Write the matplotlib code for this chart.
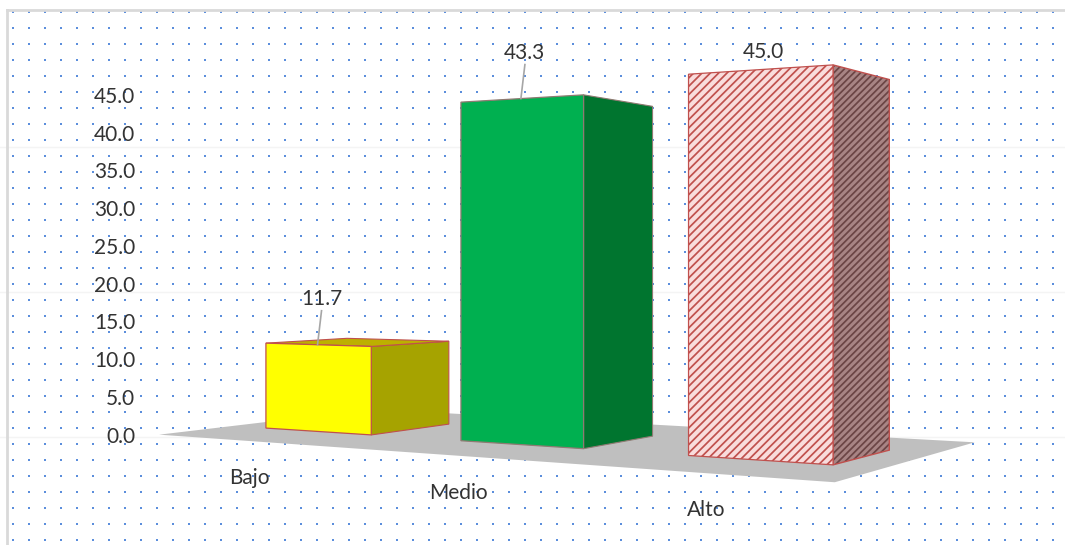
import numpy as np
import matplotlib.pyplot as plt

# datos del gráfico
categorias = ['Bajo', 'Medio', 'Alto']
valores = [11.7, 43.3, 45.0]
ticks_y = np.arange(0, 50, 5)

# estilo de cada barra
colores_frente = ['#FFFF00', '#00B050', '#F9DCDC']
colores_lado = ['#A6A300', '#00752F', '#A88484']
colores_tapa = ['#BDB000', '#009040', '#E8B0B0']
colores_borde = ['#C0504D', '#8F7A72', '#C0504D']
tramas = [None, None, '////']
trama_lado = '#6B4545'

plt.rcParams['font.family'] = ['Lato', 'DejaVu Sans']
plt.rcParams['hatch.linewidth'] = 1.25
COLOR_TEXTO = '#333333'
TAM = 15

# cámara con perspectiva (imita la vista 3D de Excel)
F = 1728.0
CX, CY = 532.0, 264.0
PHI = np.arctan(0.618)
CAM = np.array([156.3, 22.6, -183.2])

SEP = 32.4      # distancia entre categorías
ANCHO = 18.1    # ancho y fondo de cada barra
MARGEN_X = 6.0
MARGEN_Z = 14.5


def proyectar(x, y, z):
    dx, dy, dz = x - CAM[0], y - CAM[1], z - CAM[2]
    xc = dx * np.cos(PHI) + dz * np.sin(PHI)
    zc = -dx * np.sin(PHI) + dz * np.cos(PHI)
    return CX + F * xc / zc, CY - F * dy / zc


fig = plt.figure(figsize=(10.65, 5.45), dpi=100)
ax = fig.add_axes([0, 0, 1, 1])
ax.set_xlim(0, 1065)
ax.set_ylim(545, 0)
ax.axis('off')


def cara(puntos, **kw):
    u, v = zip(*[proyectar(*p) for p in puntos])
    ax.fill(u, v, **kw)


# fondo punteado y bordes
xs, ys = np.meshgrid(np.arange(13, 1065, 16), np.arange(12, 545, 16))
ax.plot(xs.ravel(), ys.ravel(), 's', ms=1.6, mew=0, color='#5B8EDC', zorder=0)
for yy in [147, 292, 437]:
    ax.axhline(yy, color='#F4F4F4', lw=1, zorder=0)
ax.plot([7, 1065], [10, 10], color='#D9D9D9', lw=2, zorder=1)
ax.plot([7, 7], [10, 545], color='#D9D9D9', lw=2, zorder=1)

# piso
n = len(valores)
x0p, x1p = -MARGEN_X, (n - 1) * SEP + ANCHO + MARGEN_X
z0p, z1p = -MARGEN_Z, ANCHO + MARGEN_Z
cara([(x0p, 0, z0p), (x1p, 0, z0p), (x1p, 0, z1p), (x0p, 0, z1p)],
     color='#BFBFBF', lw=0, zorder=2)

# barras
for i, h in enumerate(valores):
    x0, x1 = i * SEP, i * SEP + ANCHO
    z0, z1 = 0.0, ANCHO
    lado = [(x1, 0, z0), (x1, 0, z1), (x1, h, z1), (x1, h, z0)]
    frente = [(x0, 0, z0), (x1, 0, z0), (x1, h, z0), (x0, h, z0)]
    tapa = [(x0, h, z0), (x1, h, z0), (x1, h, z1), (x0, h, z1)]
    if tramas[i]:
        cara(lado, facecolor=colores_lado[i], edgecolor=trama_lado,
             hatch=tramas[i] + '/', lw=0, zorder=3)
        cara(lado, facecolor='none', edgecolor=colores_borde[i], lw=1, zorder=3)
    else:
        cara(lado, facecolor=colores_lado[i], edgecolor=colores_borde[i], lw=0.8, zorder=3)
    if h < CAM[1]:
        cara(tapa, facecolor=colores_tapa[i], edgecolor=colores_borde[i], lw=0.8, zorder=3)
    cara(frente, facecolor=colores_frente[i], edgecolor=colores_borde[i],
         hatch=tramas[i], lw=0.9, zorder=4)

    # etiqueta de valor
    cx = x0 + ANCHO / 2
    u, v = proyectar(cx, h, 0)
    ty = max(v - 46, 52)
    ax.text(u + 4, ty, f'{h:.1f}', ha='center', va='center',
            fontsize=TAM, color=COLOR_TEXTO, zorder=6)
    if v - ty > 25:
        ax.plot([u + 4, u], [ty + 12, v], color='#A6A6A6', lw=1.2, zorder=5)

    # etiqueta de categoría
    u, v = proyectar(cx, 0, -MARGEN_Z)
    ax.text(u + 3, v + 37, categorias[i], ha='center', va='center',
            fontsize=TAM, color=COLOR_TEXTO, zorder=6)

# eje de valores
for t in ticks_y:
    u, v = proyectar(-MARGEN_X, t, -MARGEN_Z)
    ax.text(u - 24, v + 2, f'{t:.1f}', ha='right', va='center',
            fontsize=TAM, color=COLOR_TEXTO, zorder=6)

fig.savefig('out.png', dpi=100)
